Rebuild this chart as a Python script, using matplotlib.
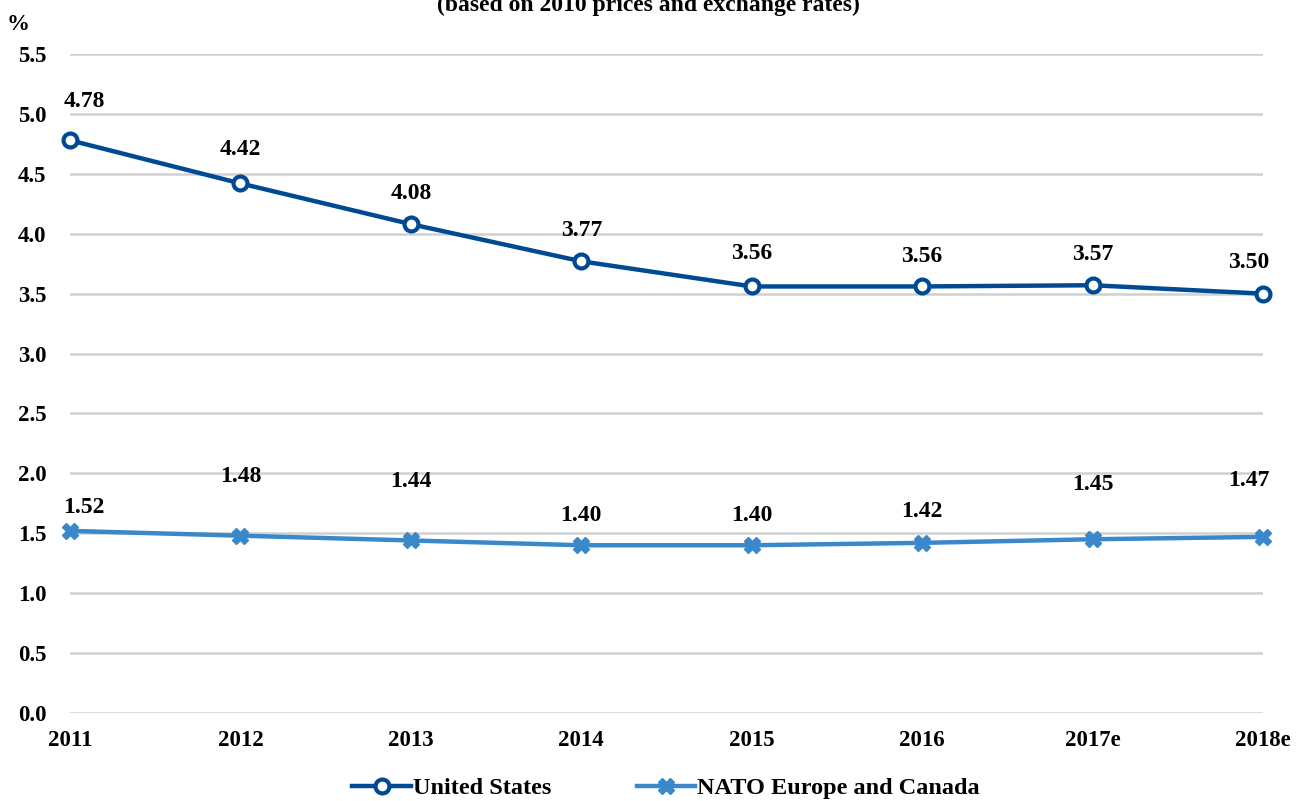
import matplotlib.pyplot as plt

years = ["2011", "2012", "2013", "2014", "2015", "2016", "2017e", "2018e"]
us = [4.78, 4.42, 4.08, 3.77, 3.56, 3.56, 3.57, 3.50]
nato = [1.52, 1.48, 1.44, 1.40, 1.40, 1.42, 1.45, 1.47]

# label offsets above the points, in pixels (as placed in the original)
us_off = [39, 34, 31, 31, 33, 30, 31, 31]
nato_off = [23, 59, 59, 30, 30, 31, 55, 56]

usColor = "#004a93"
natoColor = "#3a88c9"

plt.rcParams['font.family'] = ['Liberation Serif', 'DejaVu Serif']
plt.rcParams['font.weight'] = 'bold'

fig = plt.figure(figsize=(12.96, 8.01), dpi=100)
ax = fig.add_axes([70 / 1296, 1 - 713 / 801, (1263 - 70) / 1296, (713 - 54) / 801])

x = list(range(len(years)))
ax.plot(x, us, color=usColor, lw=3.2, marker='o', ms=10, mfc='white', mec=usColor,
        mew=3, clip_on=False, zorder=3, label="United States")
ax.plot(x, nato, color=natoColor, lw=3.2, marker='X', ms=11, mfc=natoColor, mec=natoColor,
        clip_on=False, zorder=3, label="NATO Europe and Canada")

for i in x:
    dx = 0
    if i == 0:
        dx = 10
    elif i == len(x) - 1:
        dx = -10
    ax.annotate(f"{us[i]:.2f}", (i, us[i]), xytext=(dx, us_off[i] * 0.72), textcoords='offset points',
                ha='center', va='center', fontsize=17, fontweight='bold')
    ax.annotate(f"{nato[i]:.2f}", (i, nato[i]), xytext=(dx, nato_off[i] * 0.72), textcoords='offset points',
                ha='center', va='center', fontsize=17, fontweight='bold')

ax.set_xlim(0, 7)
ax.set_ylim(0, 5.5)
ax.set_yticks([i * 0.5 for i in range(12)])
ax.set_yticklabels([f"{i * 0.5:.1f}" for i in range(12)])
ax.set_xticks(x)
ax.set_xticklabels(years)
ax.tick_params(axis='y', length=0, pad=17, labelsize=16.5)
ax.tick_params(axis='x', length=0, pad=12, labelsize=16.5)
for s in ax.spines.values():
    s.set_visible(False)
ax.grid(axis='y', color='#d0d0d0', lw=1.8)
ax.set_axisbelow(True)

fig.text(18 / 1296, 1 - 25 / 801, "%", ha='center', va='center', fontsize=16.5, fontweight='bold')
fig.text(0.5, 1 - 5 / 801, "(based on 2010 prices and exchange rates)", ha='center', va='center',
         fontsize=17, fontweight='bold')

fig.legend(loc='center', bbox_to_anchor=(0.514, 1 - 788 / 801), ncol=2, frameon=False,
           fontsize=17.5, handlelength=2.4, columnspacing=3.5, handletextpad=0.1, borderpad=0)

fig.savefig("out.png", dpi=100)
